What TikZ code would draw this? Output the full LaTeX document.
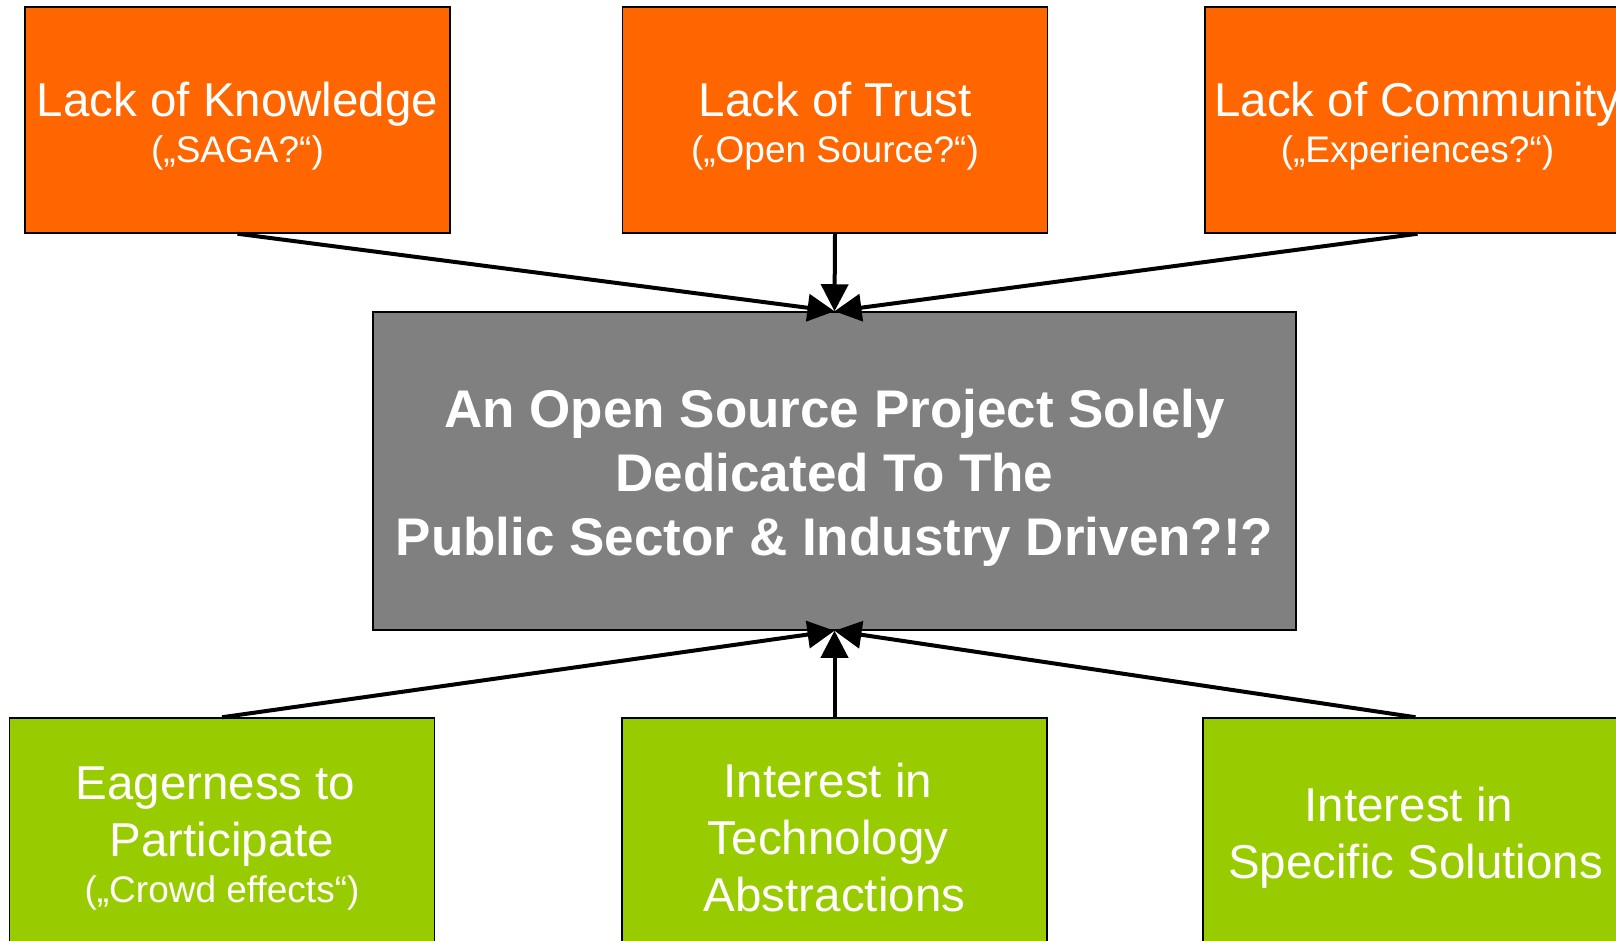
\documentclass[tikz,border=0pt]{standalone}
\usepackage{fontspec}
\setmainfont{Liberation Sans}
\usetikzlibrary{arrows.meta}
\definecolor{barrierorange}{HTML}{FF6600}
\definecolor{drivergreen}{HTML}{99CC00}
\definecolor{coregray}{HTML}{808080}
\tikzstyle{barrier}=[rectangle,draw=black,line width=1.5pt,fill=barrierorange,text=white,minimum width=425pt,minimum height=226pt,inner sep=0pt,align=center,font=\fontsize{47.5}{57}\selectfont]
\tikzstyle{driver}=[rectangle,draw=black,line width=1.5pt,fill=drivergreen,text=white,minimum width=425pt,minimum height=226pt,inner sep=0pt,align=center,font=\fontsize{47.5}{57}\selectfont]
\tikzstyle{core}=[rectangle,draw=black,line width=1.5pt,fill=coregray,text=white,minimum width=923pt,minimum height=318pt,inner sep=0pt,align=center,font=\fontsize{53}{64}\selectfont\bfseries]
\tikzstyle{link}=[line width=4pt,-{Triangle[length=27pt,width=27pt]}]
\newcommand{\hint}[1]{{\fontsize{37}{44}\selectfont #1}}
\newcommand{\lift}[1]{\rule{0pt}{#1}}
\newcommand{\trail}{\kern13pt}

\begin{document}
\begin{tikzpicture}[x=1pt,y=-1pt]
  \useasboundingbox (0,0) rectangle (1616,941);
  \node[barrier] (knowledge) at (237.5,120) {\lift{47pt}Lack of Knowledge\\[-11pt]\hint{(„SAGA?“)}};
  \node[barrier] (trust) at (835,120) {\lift{47pt}Lack of Trust\\[-11pt]\hint{(„Open Source?“)}};
  \node[barrier] (community) at (1417.5,120) {\lift{47pt}Lack of Community\\[-11pt]\hint{(„Experiences?“)}};
  \node[core] (project) at (834.5,471) {\lift{51pt}An Open Source Project Solely\\Dedicated To The\\Public Sector \& Industry Driven?!?};
  \node[driver] (eagerness) at (222,831) {\lift{47pt}Eagerness to\trail\\ Participate\\[-11pt]\hint{(„Crowd effects“)}};
  \node[driver] (technology) at (834.5,831) {\lift{47pt}Interest in\trail\\Technology\trail\\Abstractions};
  \node[driver] (solutions) at (1415.5,831) {\lift{47pt}Interest in\trail\\Specific Solutions};
\draw[link] (knowledge.south) -- (project.north);
\draw[link] (trust.south) -- (project.north);
\draw[link] (community.south) -- (project.north);
\draw[link] (eagerness.north) -- (project.south);
\draw[link] (technology.north) -- (project.south);
\draw[link] (solutions.north) -- (project.south);
\end{tikzpicture}
\end{document}
